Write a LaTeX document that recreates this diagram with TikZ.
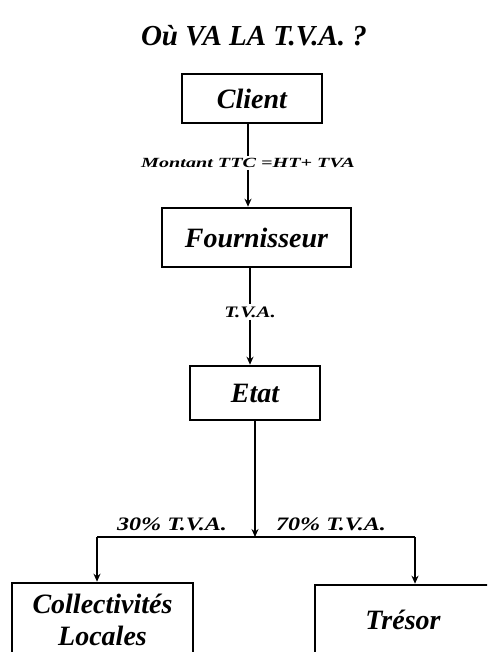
\documentclass[tikz,border=0pt]{standalone}
\usepackage{fontspec}
\setmainfont{Liberation Serif}
\usetikzlibrary{arrows.meta}
\begin{document}
\begin{tikzpicture}[x=1pt,y=-1pt,
  box/.style={draw, line width=2.6pt, inner sep=0pt, align=center,
    font=\bfseries\itshape\fontsize{28}{32}\selectfont},
  lab/.style={inner sep=2pt, font=\bfseries\itshape},
  conn/.style={line width=1.4pt},
  arr/.style={conn, -{Stealth[length=8pt,width=7pt]}}]
\useasboundingbox (0,0) rectangle (487,652);
\clip (0,0) rectangle (487,652);
\fill[white] (0,0) rectangle (487,652);
\node[font=\bfseries\itshape\fontsize{29}{32}\selectfont] (title) at (254,36) {Où VA LA T.V.A. ?};
\node[box, minimum width=140pt, minimum height=49pt] (client) at (252,98.5) {Client};
\node[box, minimum width=189pt, minimum height=59pt] (four) at (256.5,237.5) {Fournisseur};
\node[box, minimum width=130pt, minimum height=54pt] (etat) at (255,393) {Etat};
\node[box, minimum width=181pt, minimum height=74pt] (coll) at (102.5,620) {Collectivités\\Locales};
\node[box, minimum width=176pt, minimum height=70pt] (tres) at (403,620) {Trésor};
\node[lab] (l1) at (248,163) {\fontsize{14}{15}\selectfont\scalebox{1.44}[1]{Montant TTC =HT+ TVA}};
\node[lab] (l2) at (250,312) {\fontsize{16}{17}\selectfont\scalebox{1.3}[1]{T.V.A.}};
\node[lab] (l3) at (172,524) {\fontsize{19}{21}\selectfont\scalebox{1.27}[1]{30\% T.V.A.}};
\node[lab] (l4) at (331,524) {\fontsize{19}{21}\selectfont\scalebox{1.27}[1]{70\% T.V.A.}};
\coordinate (j) at (255,537);
\coordinate (jl) at (97,537);
\coordinate (jr) at (415,537);
\draw[conn] (l1.north |- client.south) -- (l1.north);
\draw[arr] (l1.south) -- (l1.south |- four.north);
\draw[conn] (l2.north |- four.south) -- (l2.north);
\draw[arr] (l2.south) -- (l2.south |- etat.north);
\draw[arr] (etat.south) -- (j);
\draw[conn] (jl) -- (jr);
\draw[arr] (jl) -- (jl |- coll.north);
\draw[arr] (jr) -- (jr |- tres.north);
\end{tikzpicture}
\end{document}
